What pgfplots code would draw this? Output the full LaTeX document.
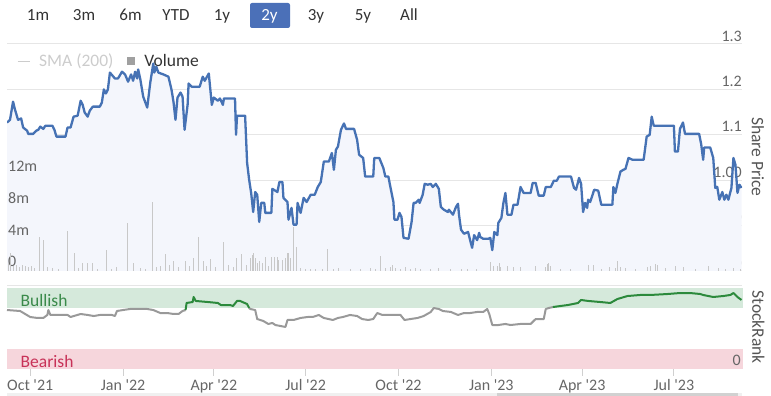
\documentclass[border=0pt]{standalone}
\usepackage{fontspec}
\setmainfont{Carlito}[Ligatures=TeXOff]
\usepackage{pgfplots}
\usepackage{pgfplotstable}
\pgfplotsset{compat=1.18}
\definecolor{priceblue}{HTML}{4672B4}
\definecolor{areafill}{HTML}{F4F6FC}
\definecolor{gridgray}{HTML}{E6E6E6}
\definecolor{labelgray}{HTML}{666666}
\definecolor{titlegray}{HTML}{555555}
\definecolor{volgray}{HTML}{C8C8C8}
\definecolor{smagray}{HTML}{CCCCCC}
\definecolor{legsq}{HTML}{A0A0A0}
\definecolor{darktext}{HTML}{333333}
\definecolor{btnblue}{HTML}{4B70B8}
\definecolor{bullband}{HTML}{D5E9DB}
\definecolor{bulltext}{HTML}{3A8A4A}
\definecolor{bearband}{HTML}{F6D6DC}
\definecolor{beartext}{HTML}{C83258}
\definecolor{rankgray}{HTML}{999999}
\definecolor{rankgreen}{HTML}{2C8A3C}
\definecolor{tickgray}{HTML}{D0D0D0}
\newcommand{\fs}[1]{\fontsize{#1}{#1}\selectfont}

\pgfplotstableread{
day price
-23 1.127
-20 1.133
-17 1.173
-15 1.155
-13 1.140
-12 1.133
-9 1.136
-7 1.116
-3 1.109
-2 1.102
3 1.102
6 1.109
8 1.111
10 1.118
13 1.113
15 1.120
22 1.120
24 1.111
26 1.096
35 1.096
37 1.116
40 1.116
43 1.140
47 1.142
50 1.175
52 1.166
54 1.149
57 1.140
59 1.153
62 1.162
69 1.162
71 1.171
73 1.200
75 1.191
77 1.200
79 1.237
84 1.224
87 1.224
91 1.239
94 1.233
97 1.217
100 1.233
102 1.219
104 1.239
106 1.224
107 1.244
109 1.224
112 1.184
116 1.160
119 1.215
122 1.257
123 1.237
125 1.250
127 1.237
132 1.233
137 1.228
140 1.200
142 1.173
144 1.133
146 1.182
149 1.193
151 1.184
153 1.111
156 1.166
157 1.213
160 1.206
168 1.206
171 1.228
173 1.219
177 1.235
180 1.166
182 1.182
186 1.175
188 1.180
191 1.166
192 1.180
203 1.180
204 1.100
205 1.142
213 1.142
215 1.038
217 1.001
219 0.972
221 0.930
223 0.974
225 0.968
227 0.908
229 0.950
232 0.950
233 0.928
239 0.928
240 0.981
245 0.974
247 0.996
250 0.996
251 0.961
255 0.952
256 0.913
259 0.939
261 0.902
264 0.902
265 0.950
268 0.928
271 0.961
274 0.952
278 0.968
282 0.968
285 0.985
288 0.996
291 1.041
296 1.041
299 1.060
301 1.023
303 1.067
305 1.074
308 1.111
311 1.125
313 1.113
321 1.113
324 1.089
326 1.056
330 1.049
332 1.008
340 1.008
341 1.049
346 1.049
350 1.027
352 1.008
355 1.008
357 0.985
360 0.952
361 0.913
364 0.913
366 0.928
368 0.919
370 0.873
375 0.871
378 0.908
380 0.950
382 0.950
385 0.957
386 0.950
389 0.968
391 0.992
394 0.990
397 0.992
399 0.985
402 0.992
405 0.981
407 0.941
410 0.935
414 0.930
415 0.935
419 0.924
422 0.941
424 0.948
425 0.924
427 0.891
430 0.882
434 0.886
436 0.868
438 0.851
440 0.879
443 0.868
445 0.884
446 0.875
449 0.871
454 0.871
456 0.873
458 0.846
460 0.886
463 0.879
464 0.906
467 0.917
469 0.950
471 0.972
473 0.924
477 0.924
479 0.946
483 0.946
486 0.985
489 0.972
496 0.972
498 0.994
501 0.994
504 0.966
509 0.966
511 0.985
516 0.985
519 0.999
522 0.999
524 1.008
536 1.008
539 0.983
541 0.979
544 1.005
546 0.992
548 0.930
550 0.950
552 0.939
553 0.957
555 0.952
559 0.979
563 0.977
566 0.946
577 0.946
578 0.985
580 0.972
582 0.992
585 1.019
588 1.023
590 1.025
593 1.049
597 1.045
608 1.045
611 1.096
614 1.100
616 1.140
618 1.120
638 1.120
639 1.063
642 1.063
644 1.113
647 1.127
649 1.102
663 1.102
665 1.080
667 1.045
668 1.072
674 1.072
677 1.049
679 0.983
681 0.985
683 0.957
686 0.974
688 0.957
690 0.968
692 0.957
695 0.983
697 1.049
699 1.034
701 0.972
703 0.990
705 0.983
}\pricedata

\pgfplotstableread{
day vol
-22 1.0
-20 2.3
-17 0.6
-14 0.8
-11 0.5
-8 0.7
-5 0.6
-2 0.5
1 0.6
4 0.4
9 4.3
13 3.9
17 0.5
22 0.4
28 0.3
37 5.0
44 2.3
48 0.4
52 1.0
57 1.0
62 1.0
67 0.3
76 2.6
81 0.3
86 0.5
96 6.1
102 1.0
109 0.4
114 0.3
121 8.7
125 0.5
129 0.6
134 2.1
138 0.7
142 1.2
147 0.5
154 1.3
158 0.6
162 1.6
167 4.3
172 1.3
175 0.6
179 1.5
184 0.5
192 3.6
197 0.8
201 0.5
204 1.6
209 2.1
214 0.7
218 1.7
220 2.0
221 2.3
223 1.6
225 1.0
227 1.3
230 1.0
233 1.8
236 0.6
239 1.8
242 1.8
245 1.8
246 1.4
250 1.4
253 1.6
255 2.3
256 2.3
258 1.6
261 5.6
264 3.0
268 0.4
273 0.3
278 0.3
283 0.2
290 0.3
295 2.8
301 0.3
306 0.4
317 0.3
327 0.3
337 0.4
342 0.3
347 1.9
352 0.4
357 0.5
359 0.8
362 0.4
367 0.3
372 0.5
377 0.3
382 0.4
387 0.3
397 0.3
405 0.4
417 0.3
427 0.3
433 0.2
442 0.3
456 1.1
459 0.6
463 0.6
465 1.0
466 0.5
473 0.6
479 0.5
486 0.5
501 0.6
511 0.5
513 0.9
514 1.0
516 0.6
526 0.3
536 0.3
553 0.8
558 0.7
566 0.3
574 0.5
580 0.4
582 1.2
585 0.5
590 0.4
600 0.3
612 0.5
615 0.6
620 0.9
622 0.7
630 0.4
640 0.6
648 0.5
659 0.3
672 0.6
682 0.4
689 0.3
697 0.4
704 0.3
}\voldata

\pgfplotstableread{
day rank
-23 72.8
-10 71.6
-5 67.9
0 64.2
7 63.0
13 63.0
17 66.7
18 72.8
20 66.7
30 66.7
37 66.7
40 64.2
50 67.9
57 66.7
63 65.4
69 66.7
76 66.7
81 66.7
84 65.4
86 71.6
92 72.8
99 74.1
109 74.1
116 74.1
122 72.8
129 69.1
136 69.1
142 67.9
147 67.9
151 71.6
154 72.8
}\rankA

\pgfplotstableread{
day rank
154 72.8
155 81.5
161 82.7
162 88.9
164 84.0
176 82.7
186 81.5
189 79.0
198 79.0
201 77.8
205 84.0
208 84.0
215 80.2
217 75.3
}\rankB

\pgfplotstableread{
day rank
217 75.3
218 74.1
223 72.8
225 61.7
231 59.3
236 55.6
240 56.8
243 54.3
248 53.1
253 51.9
255 60.5
261 60.5
268 63.0
275 64.2
280 64.2
286 66.7
291 63.0
300 60.5
305 63.0
310 64.2
317 66.7
324 65.4
329 61.7
335 60.5
340 61.7
344 69.1
349 66.7
357 66.7
367 66.7
371 60.5
377 61.7
384 63.0
390 65.4
397 70.4
400 75.3
405 74.1
409 71.6
417 70.4
424 66.7
430 69.1
436 69.1
443 70.4
449 70.4
453 74.1
455 67.9
458 54.3
464 54.3
471 55.6
476 54.3
486 55.6
496 55.6
499 59.3
501 61.7
509 61.7
511 74.1
514 75.3
518 76.5
}\rankC

\pgfplotstableread{
day rank
518 76.5
533 79.0
543 81.5
546 85.2
553 84.0
565 82.7
575 81.5
582 86.4
592 90.1
605 91.4
615 91.4
632 92.6
644 93.8
654 93.8
664 92.6
667 91.4
677 88.9
687 90.1
694 91.4
697 93.8
701 88.9
705 85.2
}\rankD

\begin{document}
\begin{tikzpicture}
\path (0pt,0pt) rectangle (771pt,396pt);
% range selector buttons
\fill[btnblue, rounded corners=2pt] (250pt,368pt) rectangle (290pt,393pt);
\foreach \lab/\cx in {1m/38,3m/84,6m/130.5,YTD/176,1y/222,3y/316,5y/363,All/409}
  \node[anchor=base, text=darktext, font=\fs{17}, inner sep=0pt] at (\cx pt,375.5pt) {\lab};
\node[anchor=base, text=white, font=\fs{17}, inner sep=0pt] at (269.5pt,375.5pt) {2y};

% price panel background: grid, labels, area
\begin{axis}[at={(7pt,125pt)}, anchor=south west, scale only axis,
  width=735pt, height=227pt, xmin=-23, xmax=705.5, ymin=0.8, ymax=1.3,
  axis line style={draw=none}, xtick=\empty,
  ytick={0.8,0.9,1.0,1.1,1.2,1.3}, yticklabels={0.80,0.90,1.00,1.1,1.2,1.3},
  ymajorgrids, grid style={gridgray, line width=1pt}, major tick length=0pt,
  yticklabel pos=right,
  yticklabel style={anchor=south east, inner sep=0pt, yshift=2.5pt, text=labelgray, font=\fs{16}},
  /pgf/number format/assume math mode=true]
\addplot[fill=areafill, draw=none] table[x=day, y=price] {\pricedata} \closedcycle;
\end{axis}

% volume
\begin{axis}[at={(7pt,125pt)}, anchor=south west, scale only axis,
  width=735pt, height=227pt, xmin=-23, xmax=705.5, ymin=0, ymax=28.6,
  axis line style={draw=none}, xtick=\empty,
  ytick={0,4,8,12}, yticklabels={0,4m,8m,12m}, major tick length=0pt,
  yticklabel style={anchor=south west, inner sep=0pt, xshift=1pt, yshift=4pt, text=labelgray, font=\fs{16}},
  /pgf/number format/assume math mode=true,
  legend columns=-1,
  legend style={draw=none, fill=none, inner sep=0pt, at={(0.0136,0.925)}, anchor=west,
    font=\fs{17.5}, text=darktext,
    /tikz/every odd column/.append style={column sep=7pt},
    /tikz/every even column/.append style={column sep=12pt}}]
\addlegendimage{legend image code/.code={\draw[smagray, line width=1pt] (0pt,0pt) -- (12pt,0pt);}}
\addlegendentry{\textcolor{smagray}{SMA (200)}}
\addplot[ycomb, volgray, line width=1pt,
  legend image code/.code={\fill[legsq] (0pt,-3.5pt) rectangle (7pt,3.5pt);}] table[x=day, y=vol] {\voldata};
\addlegendentry{Volume}
\end{axis}

% price line
\begin{axis}[at={(7pt,125pt)}, anchor=south west, scale only axis,
  width=735pt, height=227pt, xmin=-23, xmax=705.5, ymin=0.8, ymax=1.3, hide axis]
\addplot[priceblue, line width=2.3pt, line join=round] table[x=day, y=price] {\pricedata};
\end{axis}
\node[rotate=-90, text=titlegray, font=\fs{17.5}] at (758pt,239pt) {Share Price};

% StockRank panel
\draw[gridgray, line width=1pt] (7pt,110pt) -- (742pt,110pt);
\begin{axis}[at={(7pt,27pt)}, anchor=south west, scale only axis,
  width=736pt, height=81pt, xmin=-23, xmax=706.5, ymin=0, ymax=100,
  axis line style={draw=none},
  xtick={0,92,182,273,365,457,547,638},
  xticklabels={Oct '21,Jan '22,Apr '22,Jul '22,Oct '22,Jan '23,Apr '23,Jul '23},
  tick align=outside, xtick pos=lower, major tick length=7pt,
  xtick style={tickgray, line width=1pt},
  xticklabel style={text=labelgray, font=\fs{16}, anchor=north, inner sep=0pt, yshift=-3pt},
  ytick=\empty, clip=false,
  /pgf/number format/assume math mode=true]
\addplot[fill=bullband, draw=none] coordinates {(-23,75) (706.5,75) (706.5,100) (-23,100)} -- cycle;
\addplot[fill=bearband, draw=none] coordinates {(-23,0) (706.5,0) (706.5,25) (-23,25)} -- cycle;
\addplot[rankgray, line width=2pt, line join=round] table[x=day, y=rank] {\rankA};
\addplot[rankgray, line width=2pt, line join=round] table[x=day, y=rank] {\rankC};
\addplot[rankgreen, line width=2pt, line join=round] table[x=day, y=rank] {\rankB};
\addplot[rankgreen, line width=2pt, line join=round] table[x=day, y=rank] {\rankD};
\node[anchor=south east, inner sep=0pt, text=labelgray, font=\fs{16}] at (axis cs:704.5,4.5) {0};
\end{axis}
\node[anchor=base west, text=bulltext, font=\fs{17.5}, inner sep=0pt] at (20.5pt,89.5pt) {Bullish};
\node[anchor=base west, text=beartext, font=\fs{17.5}, inner sep=0pt] at (20.5pt,28.5pt) {Bearish};
\node[rotate=-90, text=titlegray, font=\fs{17.5}] at (758.5pt,69pt) {StockRank};
% scrollbar
\fill[black!6] (7pt,0pt) rectangle (742pt,3pt);
\fill[black!18] (497pt,0pt) rectangle (738pt,3pt);
\end{tikzpicture}
\end{document}
